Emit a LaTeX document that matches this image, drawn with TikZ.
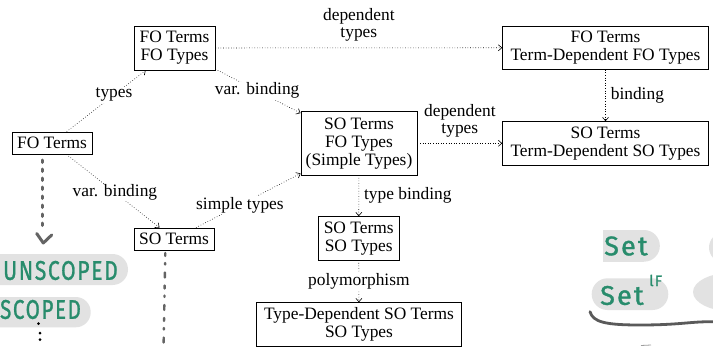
\documentclass[tikz,border=0pt]{standalone}
\usepackage{fontspec}
\setmainfont{Liberation Serif}
\newfontfamily\handfont[LetterSpace=8,FakeBold=1.2]{Fira Sans}
\usetikzlibrary{arrows.meta}
\definecolor{handgreen}{RGB}{40,140,108}
\definecolor{pillgray}{RGB}{226,226,226}
\definecolor{pengray}{RGB}{100,100,100}
\tikzset{
  box/.style={draw, line width=0.8pt, align=center, inner sep=0pt,
    font=\fontsize{17.4}{18}\selectfont},
  edge/.style={dotted, line width=0.6pt, -{Straight Barb[length=3.5pt,width=6pt]}},
  lbl/.style={font=\fontsize{17.4}{17.5}\selectfont, fill=white, inner sep=1pt, align=center},
  handtxt/.style={text=handgreen, font=\handfont\fontsize{27}{27}\selectfont, inner sep=0pt},
  pen/.style={draw=pengray, line width=2.8pt, line cap=round}
}
\begin{document}
\begin{tikzpicture}[x=1pt,y=-1pt]
\useasboundingbox[fill=white] (0,0) rectangle (713,353);

% hand-drawn annotations (background)
\fill[pillgray, rounded corners=15.5pt] (-30,254) rectangle (128,285);
\fill[pillgray, rounded corners=15pt] (-30,297) rectangle (90.7,327.3);
\node[handtxt, anchor=west, xscale=0.78] (unsc) at (3,270.5) {UNSCOPED};
\node[handtxt, anchor=west, xscale=0.76] (scop) at (0,309.5) {SCOPED};
\fill[black] (38.5,323.5) circle[radius=1.5] (40,333) circle[radius=1.5] (40,339.5) circle[radius=1.5];

\fill[pillgray] (602.7,230) rectangle (644,261.7);
\fill[pillgray] (644,245.85) circle[radius=15.85];
\fill[pillgray] (724,247.5) circle[radius=15];
\fill[pillgray, rounded corners=15.8pt] (591.7,278.3) rectangle (668.3,310);
\fill[pillgray] (733,292) ellipse[x radius=40, y radius=19.5];
\node[handtxt, anchor=west] (set1) at (604,246) {Set};
\node[handtxt, anchor=west] (set2) at (600,295.5) {Set};
\node[handtxt, anchor=west, font=\handfont\fontsize{15}{15}\selectfont] (sup) at (649,280.5) {lF};
\draw[pen, draw=pengray!90!black] (590,311.7) .. controls (593,322) and (605,325) .. (640,325) .. controls (680,325) and (690,321.5) .. (713,321.7);
\draw[pillgray!70!black, line width=0.8pt] (641,345.5) -- (651,345);

% nodes
\node[box, minimum width=80pt, minimum height=22pt] (fo) at (52,143) {FO Terms};
\node[box, minimum width=81pt, minimum height=44pt] (fofo) at (174.5,48) {FO Terms\\FO Types};
\node[box, minimum width=205.6pt, minimum height=43.3pt] (fotd) at (605.5,47.7) {FO Terms\\Term-Dependent FO Types};
\node[box, minimum width=116pt, minimum height=63.3pt] (sofo) at (359,143.3) {SO Terms\\FO Types\\(Simple Types)};
\node[box, minimum width=205.6pt, minimum height=43.3pt] (sotd) at (605.5,143.3) {SO Terms\\Term-Dependent SO Types};
\node[box, minimum width=80pt, minimum height=22pt] (so) at (174,239) {SO Terms};
\node[box, minimum width=80.7pt, minimum height=43.3pt] (soso) at (358.7,238.3) {SO Terms\\SO Types};
\node[box, minimum width=205pt, minimum height=44pt] (tdso) at (359,324.7) {Type-Dependent SO Terms\\SO Types};

% pen marks below nodes
\draw[pen, line width=3pt, dash pattern=on 2.5pt off 6.5pt] (42.7,160) -- (42.7,226);
\coordinate (chevL) at (36.7,233.5);
\coordinate (chevM) at (43.3,243);
\coordinate (chevR) at (51.7,235);
\draw[pen, line width=3pt, line join=round] (chevL) -- (chevM) -- (chevR);
\draw[pen, line width=2.4pt, dash pattern=on 3pt off 7pt on 1.5pt off 8pt on 5pt off 8pt] (165.3,253) -- (163.5,350);

% connectors
\draw[edge] (fo) -- node[lbl, pos=0.6] {types} (fofo);
\draw[edge] (fo) -- node[lbl, pos=0.52] {var. binding} (so);
\draw[edge] (fofo) -- node[lbl, pos=0.49] {var. binding} (sofo);
\draw[edge] (so) -- node[lbl, pos=0.42] {simple types} (sofo);
\draw[edge] (fofo) -- node[lbl, above=5pt, fill=none, font=\fontsize{17.4}{17}\selectfont] {dependent\\types} (fotd);
\draw[edge] (sofo) -- node[lbl, above=5pt, fill=none, font=\fontsize{17.4}{17}\selectfont] {dependent\\types} (sotd);
\draw[edge] (fotd) -- node[lbl, right=4pt, fill=none] {binding} (sotd);
\draw[edge] (sofo) -- node[lbl, right=4pt, fill=none] {type binding} (soso);
\draw[edge] (soso) -- node[lbl] {polymorphism} (tdso);
\end{tikzpicture}
\end{document}
